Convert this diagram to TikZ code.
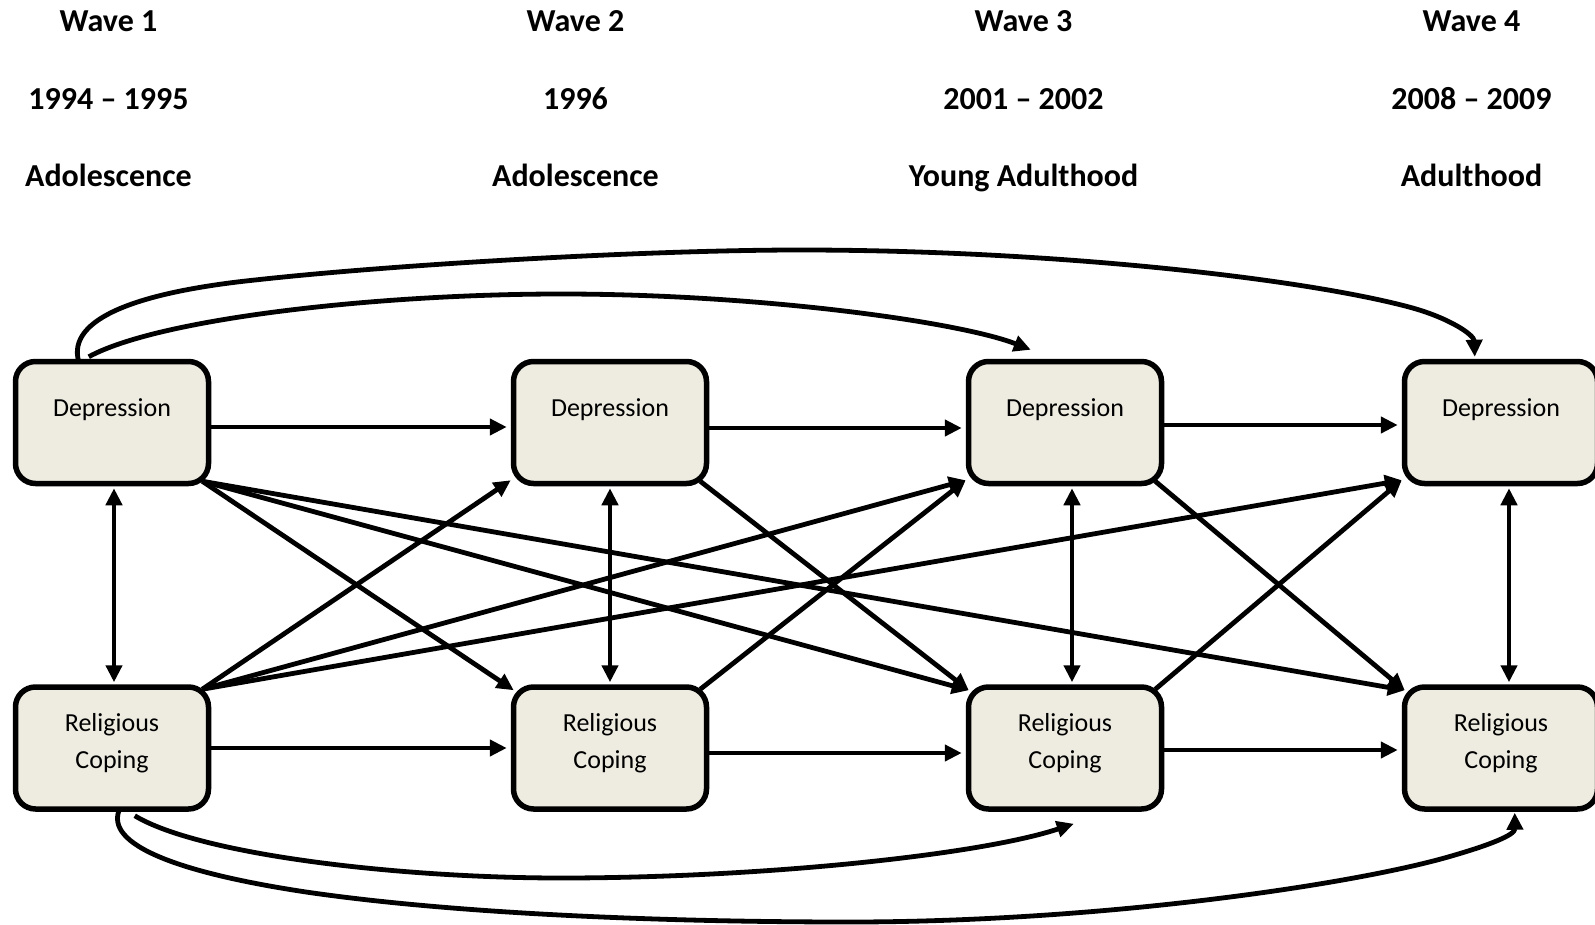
\documentclass[tikz,border=0pt]{standalone}
\usepackage{fontspec}
\setmainfont{Carlito}
\usetikzlibrary{arrows.meta,calc}
\definecolor{boxfill}{HTML}{EEECE1}
\begin{document}
\begin{tikzpicture}[x=0.5pt,y=-0.5pt,
  box/.style={draw=black, line width=2.75pt, fill=boxfill, rounded corners=10pt,
    minimum width=96.5pt, minimum height=61pt, inner sep=0pt, outer sep=1.375pt,
    font=\fontsize{13}{18.5}\selectfont, align=center},
  dep/.style={box, text height=27.25pt, text depth=33.75pt},
  rc/.style={box, text height=40.75pt, text depth=20.25pt},
  hdr/.style={font=\fontsize{16}{19}\selectfont\bfseries, anchor=base, inner sep=0pt},
  arr/.style={line width=2.4pt, -{Triangle[length=8.5pt,width=8pt]}},
  darr/.style={line width=2.4pt, {Triangle[length=8.5pt,width=8pt]}-{Triangle[length=8.5pt,width=8pt]}},
]
\useasboundingbox (0,0) rectangle (1595,925);

% headers
\node[hdr] (h1a) at (108.5,32) {Wave 1};
\node[hdr] (h1b) at (108.5,110) {1994 – 1995};
\node[hdr] (h1c) at (108.5,187) {Adolescence};
\node[hdr] (h2a) at (575.5,32) {Wave 2};
\node[hdr] (h2b) at (575.5,110) {1996};
\node[hdr] (h2c) at (575.5,187) {Adolescence};
\node[hdr] (h3a) at (1023.5,32) {Wave 3};
\node[hdr] (h3b) at (1023.5,110) {2001 – 2002};
\node[hdr] (h3c) at (1023.5,187) {Young Adulthood};
\node[hdr] (h4a) at (1471.5,32) {Wave 4};
\node[hdr] (h4b) at (1471.5,110) {2008 – 2009};
\node[hdr] (h4c) at (1471.5,187) {Adulthood};

% boxes
\node[dep] (D1) at (112,422.5) {Depression};
\node[dep] (D2) at (610,422.5) {Depression};
\node[dep] (D3) at (1065,422.5) {Depression};
\node[dep] (D4) at (1501,422.5) {Depression};
\node[rc] (R1) at (112,748) {Religious\\Coping};
\node[rc] (R2) at (610,748) {Religious\\Coping};
\node[rc] (R3) at (1065,748) {Religious\\Coping};
\node[rc] (R4) at (1501,748) {Religious\\Coping};

% corner points for diagonals
\foreach \i in {1,2,3,4}{
  \coordinate (Do\i) at ($(D\i.south east)+(-9,-5)$);
  \coordinate (Ro\i) at ($(R\i.north east)+(-9,5)$);
  \coordinate (Di\i) at ($(D\i.south west)+(0,-6)$);
  \coordinate (Ri\i) at ($(R\i.north west)+(3,6)$);
}

% horizontal arrows
\draw[arr] ($(D1.east)+(0,4.5)$) -- ($(D2.west)+(-4,4.5)$);
\draw[arr] ($(D2.east)+(0,5.5)$) -- ($(D3.west)+(-4,5.5)$);
\draw[arr] ($(D3.east)+(0,2.5)$) -- ($(D4.west)+(-4,2.5)$);
\draw[arr] ($(R1.east)+(0,0)$) -- ($(R2.west)+(-4,0)$);
\draw[arr] ($(R2.east)+(0,5)$) -- ($(R3.west)+(-4,5)$);
\draw[arr] ($(R3.east)+(0,2)$) -- ($(R4.west)+(-4,2)$);

% vertical double arrows
\draw[darr] ($(D1.south)+(2,2)$) -- ($(R1.north)+(2,-2)$);
\draw[darr] ($(D2.south)+(0,2)$) -- ($(R2.north)+(0,-2)$);
\draw[darr] ($(D3.south)+(7,2)$) -- ($(R3.north)+(7,-2)$);
\draw[darr] ($(D4.south)+(8,2)$) -- ($(R4.north)+(8,-2)$);

% diagonals
\draw[arr] (Do1) -- (Ri2);
\draw[arr] (Do1) -- (Ri3);
\draw[arr] (Do1) -- (Ri4);
\draw[arr] (Do2) -- (Ri3);
\draw[arr] (Do3) -- (Ri4);
\draw[arr] (Ro1) -- (Di2);
\draw[arr] (Ro1) -- (Di3);
\draw[arr] (Ro1) -- (Di4);
\draw[arr] (Ro2) -- (Di3);
\draw[arr] (Ro3) -- (Di4);

% curved arrows
\coordinate (cA0) at ($(D1.north west)+(66,3)$);
\coordinate (cA1) at ($(D4.north west)+(73,-2)$);
\coordinate (cB0) at ($(D1.north west)+(76,-2)$);
\coordinate (cB1) at ($(D3.north west)+(65,-9)$);
\coordinate (cC0) at ($(R1.south west)+(107,-3)$);
\coordinate (cC1) at ($(R4.south west)+(113,1)$);
\coordinate (cD0) at ($(R1.south west)+(122,4)$);
\coordinate (cD1) at ($(R3.south west)+(108,12)$);

\draw[arr] (cA0) .. controls (66,318) and (140,292) .. (255,280)
  .. controls (400,264) and (650,250) .. (800,250)
  .. controls (1050,250) and (1300,278) .. (1409,307)
  .. controls (1450,318) and (1474,335) .. (cA1);
\draw[arr] (cB0) .. controls (160,318) and (380,294) .. (561,294)
  .. controls (760,294) and (960,322) .. (cB1);
\draw[arr] (cC0) .. controls (103,845) and (180,873) .. (306,892)
  .. controls (450,913) and (650,922) .. (850,922)
  .. controls (1100,922) and (1350,885) .. (1448,857)
  .. controls (1490,845) and (1515,835) .. (cC1);
\draw[arr] (cD0) .. controls (200,855) and (400,878) .. (561,878)
  .. controls (760,878) and (980,855) .. (cD1);
\end{tikzpicture}
\end{document}
